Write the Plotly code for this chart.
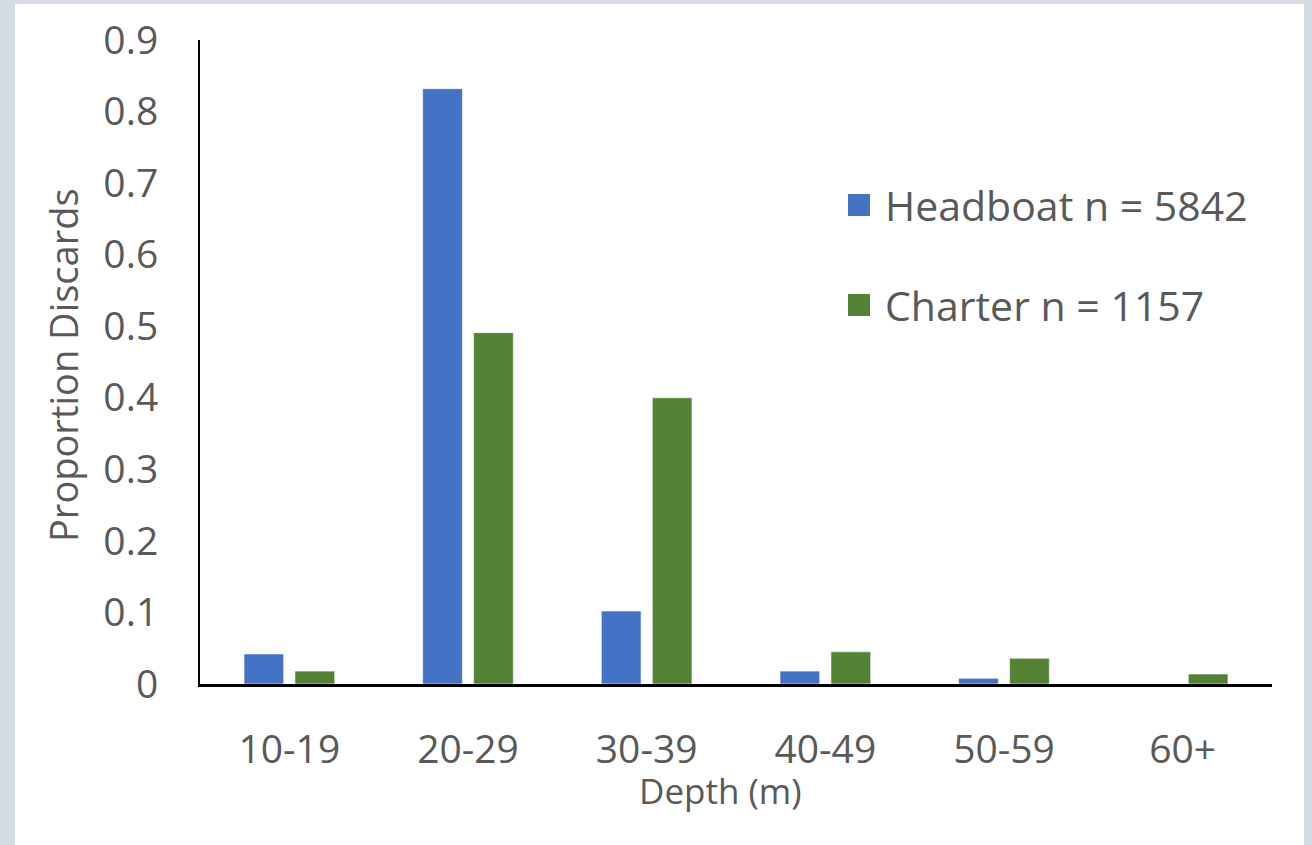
import plotly.graph_objects as go

# Depth bins and proportion of discards per fishery
depth_bins = ["10-19", "20-29", "30-39", "40-49", "50-59", "60+"]
headboat = [0.042, 0.832, 0.102, 0.018, 0.008, 0.0]
charter = [0.018, 0.491, 0.400, 0.045, 0.036, 0.014]
series_names = ["Headboat n = 5842", "Charter n = 1157"]
series_colors = ["#4472C4", "#548235"]
y_tickvals = [0, 0.1, 0.2, 0.3, 0.4, 0.5, 0.6, 0.7, 0.8, 0.9]
y_ticktext = ["0", "0.1", "0.2", "0.3", "0.4", "0.5", "0.6", "0.7", "0.8", "0.9"]

W, H = 1312, 845
ML, MR, MT, MB = 200, 40, 40, 161
PW, PH = W - ML - MR, H - MT - MB

def px_x(p):
    return (p - ML) / PW

def px_y(p):
    return (H - MB - p) / PH

FONT = "Open Sans"
GREY = "#595959"

fig = go.Figure()
for name, vals, col in zip(series_names, [headboat, charter], series_colors):
    fig.add_trace(go.Bar(
        x=depth_bins, y=vals, name=name,
        marker=dict(color=col, line=dict(color="rgba(255,255,255,0.6)", width=1)),
        showlegend=False,
    ))

shapes = [
    # white card over the light grey frame
    dict(type="rect", xref="paper", yref="paper", layer="below",
         x0=px_x(15), x1=px_x(1304), y0=px_y(H + 5), y1=px_y(4),
         fillcolor="white", line=dict(width=0)),
]
annotations = [
    dict(text="Proportion Discards", xref="paper", yref="paper",
         x=px_x(63), y=px_y(365), textangle=-90, showarrow=False,
         xanchor="center", yanchor="middle",
         font=dict(family=FONT, size=38, color=GREY)),
    dict(text="Depth (m)", xref="paper", yref="paper",
         x=px_x(720), y=px_y(790), showarrow=False,
         xanchor="center", yanchor="middle",
         font=dict(family=FONT, size=35, color=GREY)),
]
# legend: square swatches with labels
for i, (name, col) in enumerate(zip(series_names, series_colors)):
    cy = 205 + 100 * i
    shapes.append(dict(type="rect", xref="paper", yref="paper",
                       x0=px_x(848), x1=px_x(870), y0=px_y(cy + 11), y1=px_y(cy - 11),
                       fillcolor=col, line=dict(width=0)))
    annotations.append(dict(text=name, xref="paper", yref="paper",
                            x=px_x(883), y=px_y(cy), showarrow=False,
                            xanchor="left", yanchor="middle",
                            font=dict(family=FONT, size=41, color=GREY)))

fig.update_layout(
    width=W, height=H,
    margin=dict(l=ML, r=MR, t=MT, b=MB),
    paper_bgcolor="#D6DCE4",
    plot_bgcolor="rgba(0,0,0,0)",
    barmode="group", bargap=0.43, bargroupgap=0.22,
    shapes=shapes, annotations=annotations,
    font=dict(family=FONT, color=GREY),
    xaxis=dict(showline=True, linecolor="black", linewidth=3,
               showgrid=False, ticks="", ticklabelstandoff=29,
               tickfont=dict(family=FONT, size=39, color=GREY)),
    yaxis=dict(range=[0, 0.9], showline=True, linecolor="black", linewidth=2,
               showgrid=False, zeroline=False, ticks="",
               tickvals=y_tickvals, ticktext=y_ticktext, ticklabelstandoff=32,
               tickfont=dict(family=FONT, size=39, color=GREY)),
)

fig.write_html("out.html")
